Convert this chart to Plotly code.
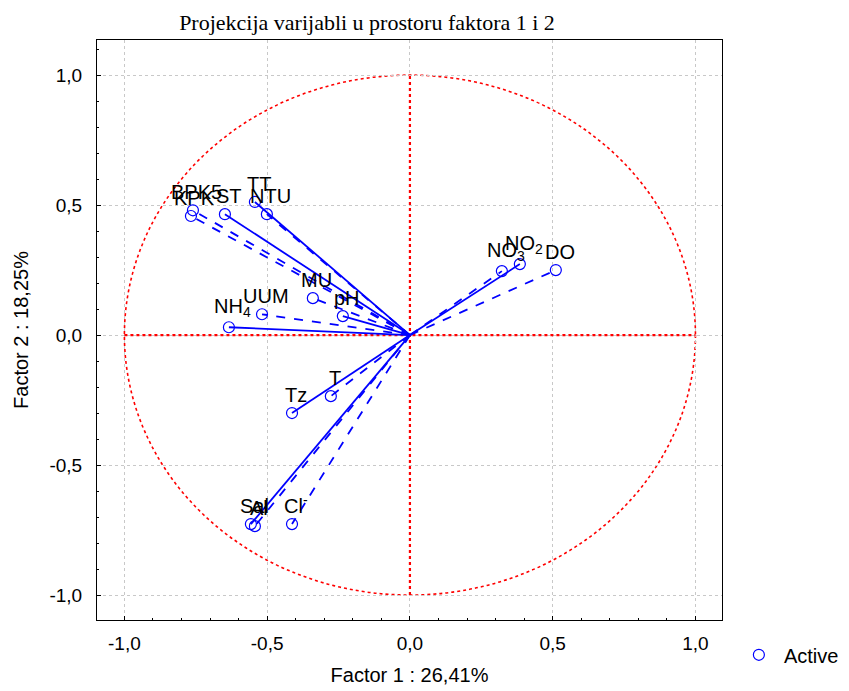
import plotly.graph_objects as go

# Data: variable names, factor loadings, line styles
labels = ["DO", "NO<sub>2</sub>", "NO<sub>3</sub>", "TT", "NTU", "ST", "BPK5", "KPK",
          "MU", "pH", "UUM", "NH<sub>4</sub>", "T", "Tz", "Sal", "Al", "Cl<sup>-</sup>"]
factor1 = [0.511, 0.385, 0.322, -0.543, -0.501, -0.648, -0.760, -0.767,
           -0.340, -0.235, -0.518, -0.634, -0.277, -0.413, -0.557, -0.543, -0.413]
factor2 = [0.250, 0.273, 0.246, 0.512, 0.465, 0.465, 0.480, 0.458,
           0.142, 0.073, 0.080, 0.030, -0.235, -0.300, -0.727, -0.735, -0.727]
line_styles = ["dash", "solid", "dash", "solid", "dash", "solid", "dash", "dash",
               "dash", "solid", "dash", "solid", "dash", "solid", "solid", "dash", "dash"]

tick_vals = [-1.0, -0.5, 0.0, 0.5, 1.0]
tick_text = ["-1,0", "-0,5", "0,0", "0,5", "1,0"]

BLUE = "#0000ff"
RED = "#ff0000"
SANS = "Liberation Sans, Arial"

fig = go.Figure()

# red reference axes (drawn first, under the vectors)
fig.add_trace(go.Scatter(x=[0, 0], y=[-1, 1], mode="lines",
                         line=dict(color=RED, width=2.2, dash="dot"),
                         showlegend=False, hoverinfo="skip"))
fig.add_trace(go.Scatter(x=[-1, 1], y=[0, 0], mode="lines",
                         line=dict(color=RED, width=2.2, dash="dot"),
                         showlegend=False, hoverinfo="skip"))

for x, y, ls in zip(factor1, factor2, line_styles):
    fig.add_trace(go.Scatter(x=[0, x], y=[0, y], mode="lines",
                             line=dict(color=BLUE, width=1.8, dash=ls),
                             showlegend=False, hoverinfo="skip"))

fig.add_trace(go.Scatter(x=factor1, y=factor2, mode="markers", name="Active",
                         marker=dict(symbol="circle-open", size=11,
                                     color=BLUE, line=dict(width=1.2, color=BLUE))))

for lab, x, y in zip(labels, factor1, factor2):
    fig.add_annotation(x=x, y=y, text=lab, showarrow=False,
                       xanchor="center", yanchor="bottom", xshift=4, yshift=5,
                       font=dict(family=SANS, size=20, color="black"))

# unit circle
fig.add_shape(type="circle", x0=-1, y0=-1, x1=1, y1=1, xref="x", yref="y",
              line=dict(color=RED, width=1.6, dash="dot"), layer="below")

axis_common = dict(
    tickvals=tick_vals, ticktext=tick_text,
    showgrid=True, gridcolor="#c8c8c8", griddash="dot", gridwidth=1,
    zeroline=False, showline=True, linecolor="black", linewidth=1, mirror=True,
    ticks="inside", ticklen=4, tickcolor="black",
    minor=dict(ticks="inside", ticklen=2, dtick=0.1, tickcolor="black", showgrid=False),
    tickfont=dict(family=SANS, size=19, color="black"),
    automargin=False,
)

fig.update_xaxes(range=[-1.096, 1.093], ticklabelstandoff=6,
                 title=dict(text="Factor 1 : 26,41%", standoff=15,
                            font=dict(family=SANS, size=20, color="black")),
                 **axis_common)
fig.update_yaxes(range=[-1.096, 1.135], ticklabelstandoff=10,
                 title=dict(text="Factor 2 : 18,25%", standoff=15,
                            font=dict(family=SANS, size=20, color="black")),
                 **axis_common)

# page body has an 8px margin: figure is sized/offset to compensate
fig.update_layout(
    width=841, height=683,
    margin=dict(l=89, r=127, t=32, b=71, autoexpand=False),
    plot_bgcolor="white", paper_bgcolor="white",
    title=dict(text="Projekcija varijabli u prostoru faktora 1 i 2",
               x=359 / 841, xanchor="center", y=1 - 14 / 683, yanchor="middle",
               font=dict(family="Liberation Serif, Times New Roman", size=22, color="black")),
    showlegend=True,
    legend=dict(x=1.019, y=-0.06, xanchor="left", yanchor="middle",
                itemwidth=40, bgcolor="rgba(0,0,0,0)",
                font=dict(family=SANS, size=20, color="black")),
)

fig.write_html("out.html")
